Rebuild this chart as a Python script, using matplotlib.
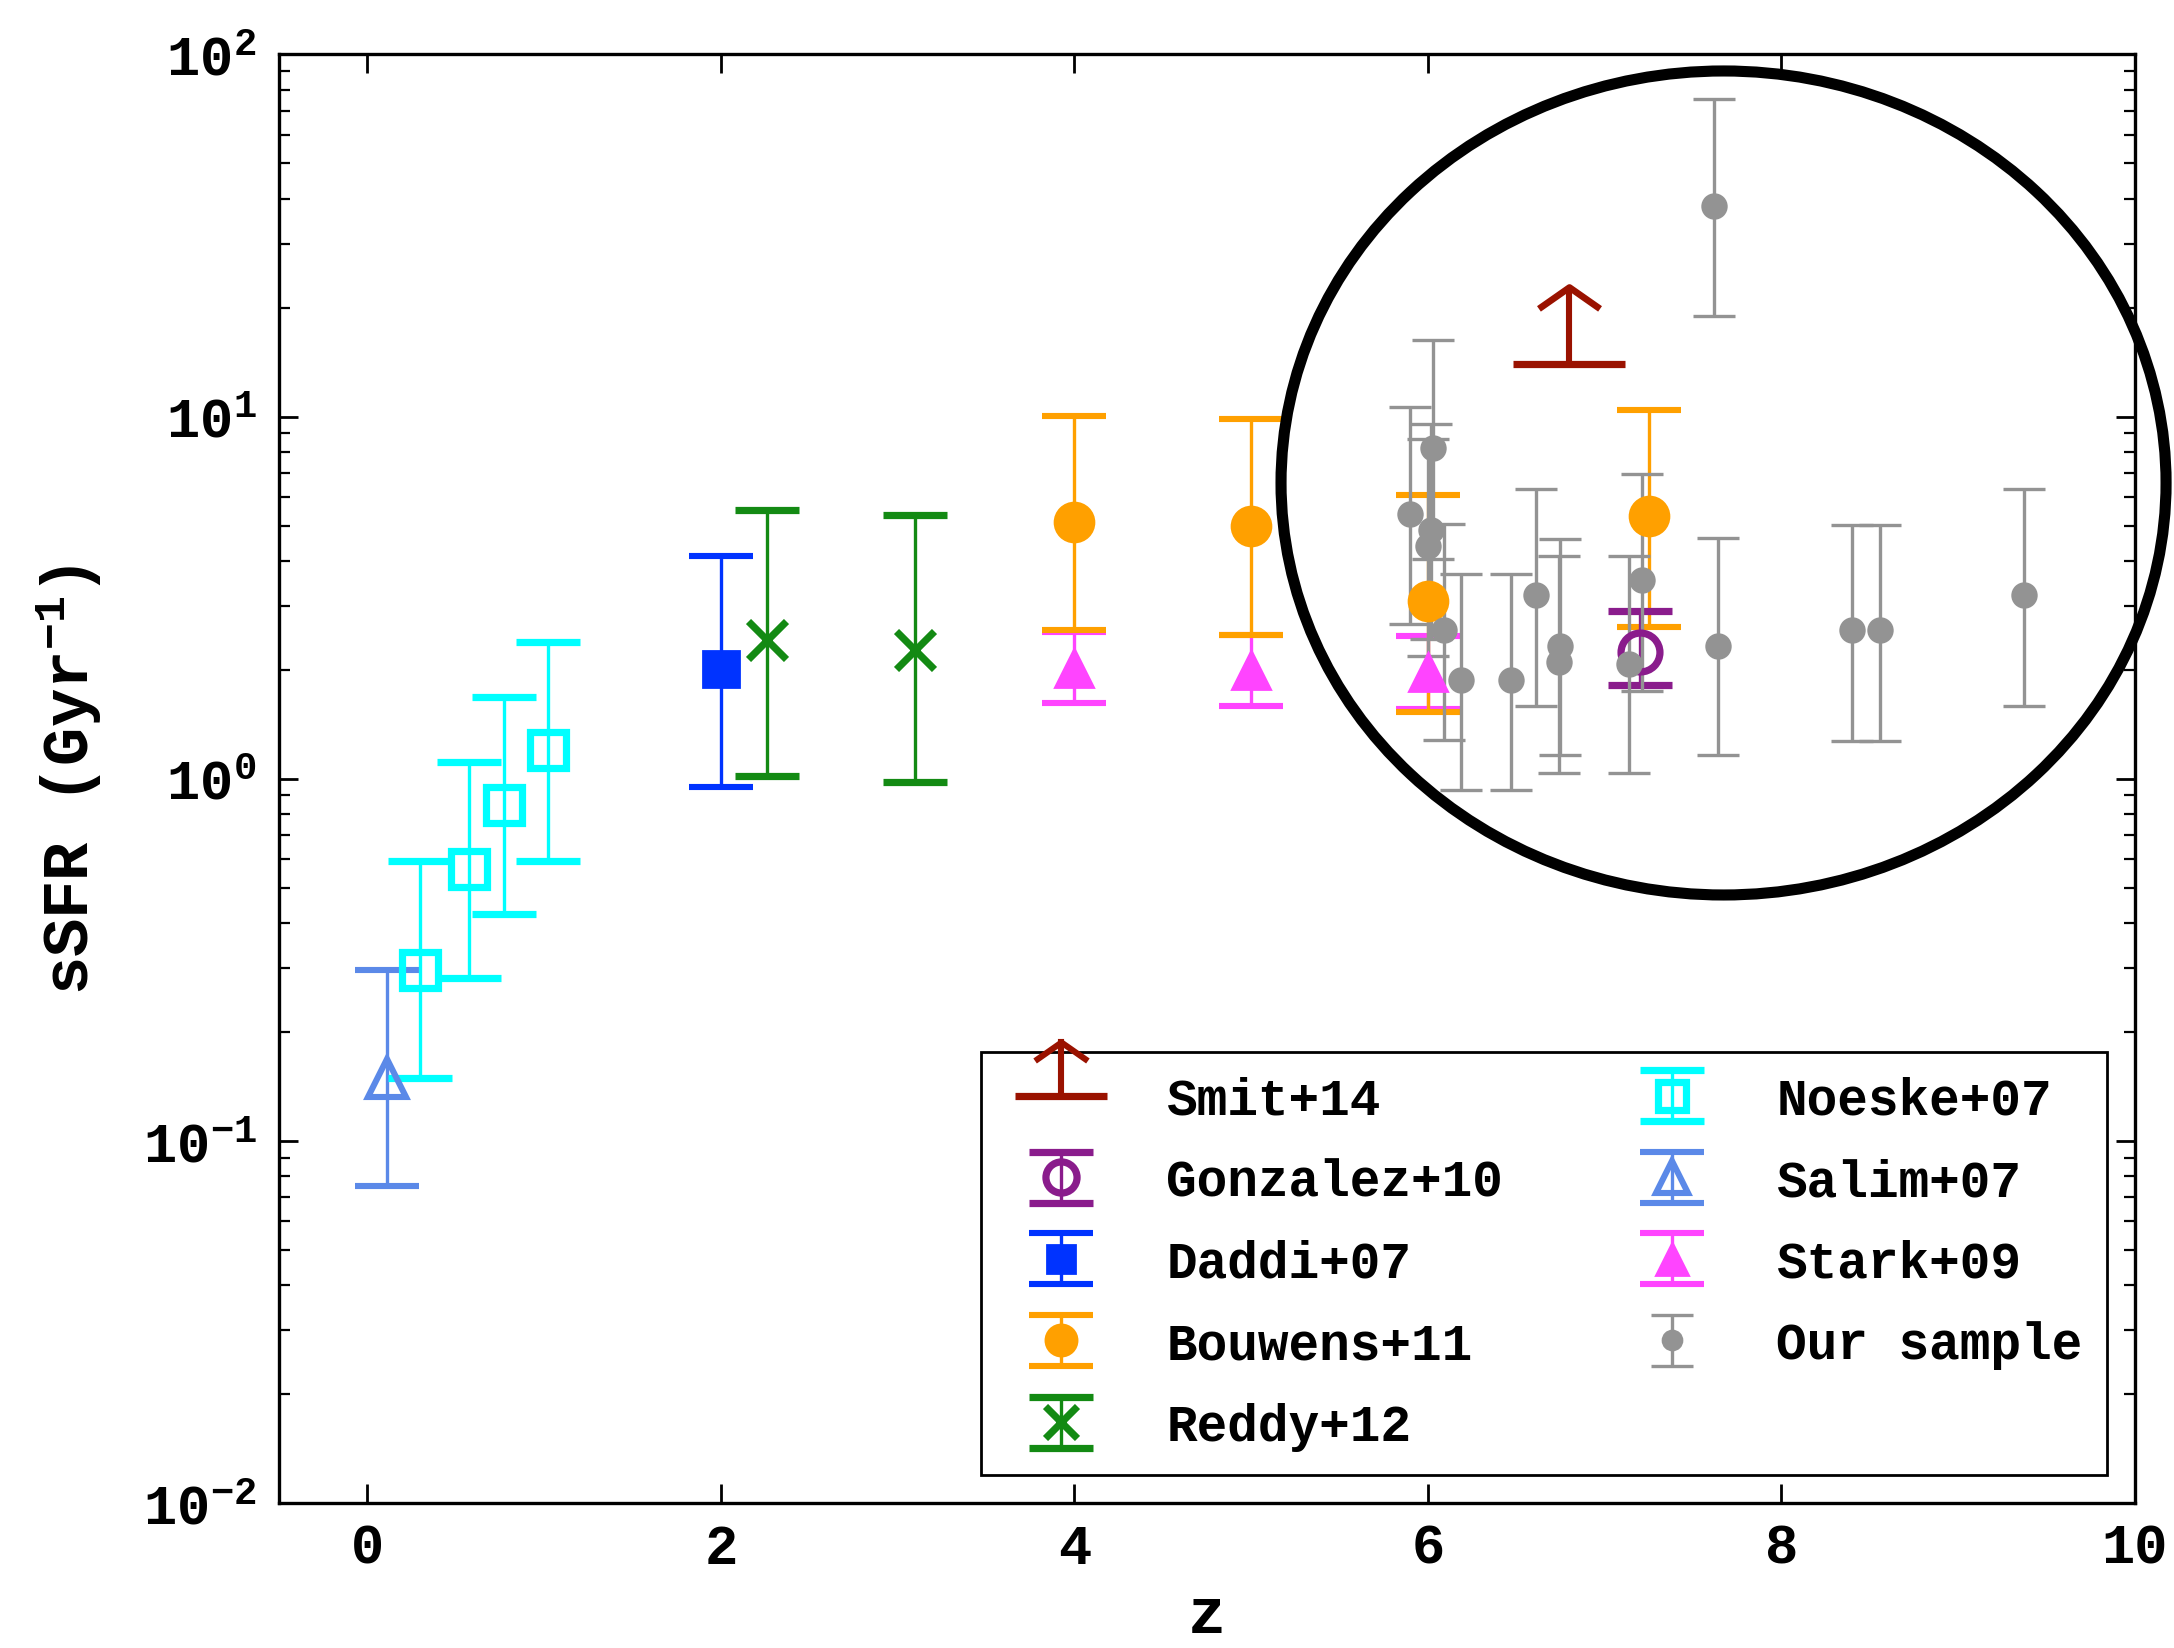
import numpy as np
import matplotlib
matplotlib.use("Agg")
import matplotlib.pyplot as plt
import matplotlib.lines as mlines
from matplotlib.path import Path
from matplotlib.patches import Ellipse
from matplotlib.legend_handler import HandlerBase
from matplotlib.ticker import NullLocator

plt.rcParams['font.family'] = ['Liberation Mono', 'DejaVu Sans']
plt.rcParams['font.weight'] = 'bold'
plt.rcParams['axes.labelweight'] = 'bold'
plt.rcParams['mathtext.fontset'] = 'custom'
plt.rcParams['mathtext.rm'] = 'Liberation Mono:bold'
plt.rcParams['mathtext.it'] = 'Liberation Mono:bold'
plt.rcParams['mathtext.bf'] = 'Liberation Mono:bold'
plt.rcParams['font.size'] = 20

# sSFR compilation: value, lower and upper end of the error bar (Gyr^-1)
salim_z = [0.11]
salim_ssfr = [0.149]
salim_lo = [0.075]
salim_hi = [0.297]

noeske_z = [0.30, 0.575, 0.775, 1.02]
noeske_ssfr = [0.297, 0.562, 0.845, 1.20]
noeske_lo = [0.149, 0.282, 0.424, 0.593]
noeske_hi = [0.593, 1.114, 1.68, 2.39]

daddi_z = [2.0]
daddi_ssfr = [2.01]
daddi_lo = [0.95]
daddi_hi = [4.11]

reddy_z = [2.26, 3.10]
reddy_ssfr = [2.41, 2.27]
reddy_lo = [1.02, 0.98]
reddy_hi = [5.52, 5.34]

bouwens_z = [4.0, 5.0, 6.0, 7.25]
bouwens_ssfr = [5.11, 5.00, 3.10, 5.31]
bouwens_lo = [2.57, 2.49, 1.53, 2.62]
bouwens_hi = [10.07, 9.88, 6.08, 10.45]

stark_z = [4.0, 5.0, 6.0]
stark_ssfr = [2.02, 2.0, 1.97]
stark_lo = [1.62, 1.59, 1.56]
stark_hi = [2.55, 2.49, 2.48]

gonzalez_z = [7.2]
gonzalez_ssfr = [2.24]
gonzalez_lo = [1.81]
gonzalez_hi = [2.90]

# lower limit
smit_z = [6.8]
smit_ssfr = [14.0]
smit_arrow_top = [22.8]

ours_z = [5.90, 6.03, 6.02, 6.00, 6.09, 6.19, 6.47, 6.61, 6.75, 6.74,
          7.14, 7.21, 7.62, 7.64, 8.40, 8.56, 9.37]
ours_ssfr = [5.4, 8.2, 4.85, 4.4, 2.57, 1.87, 1.87, 3.21, 2.33, 2.10,
             2.07, 3.53, 38.2, 2.33, 2.57, 2.57, 3.21]
ours_lo = [2.68, 4.05, 2.43, 2.19, 1.28, 0.93, 0.93, 1.59, 1.16, 1.04,
           1.04, 1.75, 19.0, 1.16, 1.27, 1.27, 1.59]
ours_hi = [10.6, 16.3, 9.55, 8.67, 5.06, 3.68, 3.68, 6.31, 4.59, 4.13,
           4.12, 6.95, 75.4, 4.62, 5.03, 5.03, 6.31]

c_smit = '#9a1200'
c_gonz = '#8a1c8c'
c_daddi = '#0033ff'
c_bouw = '#ffa000'
c_reddy = '#138a13'
c_noeske = '#00ffff'
c_salim = '#5b89e8'
c_stark = '#ff44ff'
c_ours = '#939393'

# open arrow head, apex at the anchor point
chevron = Path([[-1.0, -0.7], [0.0, 0.0], [1.0, -0.7]],
               [Path.MOVETO, Path.LINETO, Path.LINETO])


def yerr(val, lo, hi):
    val, lo, hi = np.asarray(val), np.asarray(lo), np.asarray(hi)
    return np.vstack([val - lo, hi - val])


class LimitArrowHandler(HandlerBase):
    """legend entry for a lower limit: bar plus upward arrow"""
    def __init__(self, color, **kw):
        super().__init__(**kw)
        self.color = color

    def create_artists(self, legend, orig_handle, xdescent, ydescent,
                       width, height, fontsize, trans):
        xc = 0.5 * width - xdescent
        yc = 0.5 * height - ydescent
        ytop = yc + 1.05 * fontsize
        stem = mlines.Line2D([xc, xc], [yc, ytop], color=self.color, lw=2.2)
        base = mlines.Line2D([xc], [yc], marker='_', ms=33, mew=2.6,
                             color=self.color)
        head = mlines.Line2D([xc], [ytop], marker=chevron, ms=19, mew=2.2,
                             mfc='none', color=self.color)
        for a in (stem, base, head):
            a.set_transform(trans)
        return [stem, base, head]


fig = plt.figure(figsize=(10.87, 8.245), dpi=200)
ax = fig.add_axes([0.1283, 0.0878, 0.8537, 0.8786])
ax.set_yscale('log')

ebkw = dict(linestyle='none', capsize=11.5, capthick=2.2, elinewidth=1.2)

salim = ax.errorbar(salim_z, salim_ssfr, yerr=yerr(salim_ssfr, salim_lo, salim_hi),
                    marker='^', ms=14, mfc='none', mec=c_salim, mew=2.2,
                    color=c_salim, **ebkw)
noeske = ax.errorbar(noeske_z, noeske_ssfr, yerr=yerr(noeske_ssfr, noeske_lo, noeske_hi),
                     marker='s', ms=13, mfc='none', mec=c_noeske, mew=2.6,
                     color=c_noeske, **ebkw)
daddi = ax.errorbar(daddi_z, daddi_ssfr, yerr=yerr(daddi_ssfr, daddi_lo, daddi_hi),
                    marker='s', ms=13, mfc=c_daddi, mec=c_daddi,
                    color=c_daddi, **ebkw)
reddy = ax.errorbar(reddy_z, reddy_ssfr, yerr=yerr(reddy_ssfr, reddy_lo, reddy_hi),
                    marker='x', ms=14, mew=2.6, color=c_reddy, **ebkw)
stark = ax.errorbar(stark_z, stark_ssfr, yerr=yerr(stark_ssfr, stark_lo, stark_hi),
                    marker='^', ms=14, mfc=c_stark, mec=c_stark,
                    color=c_stark, **ebkw)
bouw = ax.errorbar(bouwens_z, bouwens_ssfr, yerr=yerr(bouwens_ssfr, bouwens_lo, bouwens_hi),
                   marker='o', ms=14, mfc=c_bouw, mec=c_bouw,
                   color=c_bouw, **ebkw)
gonz = ax.errorbar(gonzalez_z, gonzalez_ssfr, yerr=yerr(gonzalez_ssfr, gonzalez_lo, gonzalez_hi),
                   marker='o', ms=14, mfc='none', mec=c_gonz, mew=2.6,
                   color=c_gonz, **ebkw)

smit_up = np.asarray(smit_arrow_top) - np.asarray(smit_ssfr)
smit = ax.errorbar(smit_z, smit_ssfr, yerr=[np.zeros(len(smit_z)), smit_up],
                   lolims=True, fmt='none', ecolor=c_smit, elinewidth=2.2,
                   capsize=20, capthick=2.6)
for ln in smit[1]:
    if ln.get_marker() != '_':
        ln.set_marker(chevron)
        ln.set_markersize(22)
        ln.set_markeredgewidth(2.4)
        ln.set_markerfacecolor('none')

ours = ax.errorbar(ours_z, ours_ssfr, yerr=yerr(ours_ssfr, ours_lo, ours_hi),
                   marker='o', ms=8.5, mfc=c_ours, mec=c_ours, color=c_ours,
                   linestyle='none', capsize=7.5, capthick=1.2, elinewidth=1.2)

ax.set_xlim(-0.5, 10)
ax.set_ylim(1e-2, 1e2)
ax.set_xticks([0, 2, 4, 6, 8, 10])
ax.xaxis.set_minor_locator(NullLocator())
ax.tick_params(which='both', direction='in', top=True, right=True)
ax.tick_params(which='major', length=7, width=1.0)
ax.tick_params(which='minor', length=4, width=0.8)
ax.tick_params(axis='x', pad=7)
ax.tick_params(axis='y', pad=8)
for s in ax.spines.values():
    s.set_linewidth(1.2)

ax.set_xlabel('z', fontsize=23, labelpad=3.5)
ax.set_ylabel('sSFR (Gyr$^{-1}$)', fontsize=23, labelpad=14)

handles = [smit, gonz, daddi, bouw, reddy, noeske, salim, stark, ours]
labels = ['Smit+14', 'Gonzalez+10', 'Daddi+07', 'Bouwens+11', 'Reddy+12',
          'Noeske+07', 'Salim+07', 'Stark+09', 'Our sample']
leg = ax.legend(handles, labels, ncol=2, loc='lower right', fontsize=18.4,
                markerscale=0.8, handler_map={smit: LimitArrowHandler(c_smit)},
                fancybox=False, edgecolor='k', framealpha=1,
                borderaxespad=0.55, borderpad=0.47, labelspacing=0.64,
                handlelength=2.2, handletextpad=0.95, columnspacing=2.2)
leg.get_frame().set_linewidth(1.0)

fig.add_artist(Ellipse((0.7928, 0.7065), 0.4071, 0.4997,
                       transform=fig.transFigure, fill=False, lw=4,
                       ec='k', zorder=10))

fig.savefig('out.png', dpi=200)
